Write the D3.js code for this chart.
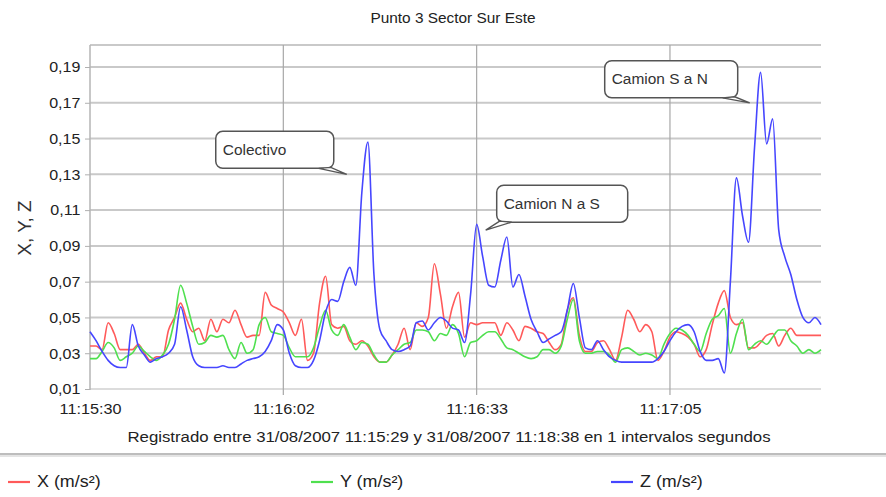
<!DOCTYPE html>
<html><head><meta charset="utf-8">
<script src="https://cdn.jsdelivr.net/npm/d3@7"></script>
<style>
body{margin:0;background:#fff;}
svg{display:block;font-family:"Liberation Sans",Arial,sans-serif;}
</style>
</head><body>
<svg id="c" width="886" height="497"></svg>
<script>
// ---- data ----
const titleText = "Punto 3 Sector Sur Este";
const xAxisTitle = "Registrado entre 31/08/2007 11:15:29 y 31/08/2007 11:18:38 en 1 intervalos segundos";
const yAxisTitle = "X, Y, Z";
const seriesNames = ["X (m/s²)", "Y (m/s²)", "Z (m/s²)"];
const xTickIndex = [0, 32, 64, 96];
const xTickLabels = ["11:15:30", "11:16:02", "11:16:33", "11:17:05"];
const yTicks = [0.01, 0.03, 0.05, 0.07, 0.09, 0.11, 0.13, 0.15, 0.17, 0.19];

const xValues = [
0.034,0.034,0.032,0.047,0.041,0.032,0.032,0.032,0.035,0.030,
0.026,0.028,0.028,0.043,0.050,0.058,0.049,0.042,0.044,0.037,
0.049,0.042,0.049,0.047,0.054,0.046,0.039,0.040,0.040,0.064,
0.057,0.055,0.053,0.047,0.040,0.049,0.026,0.030,0.058,0.073,
0.046,0.044,0.045,0.037,0.035,0.037,0.034,0.028,0.025,0.025,
0.029,0.035,0.044,0.032,0.047,0.045,0.050,0.080,0.063,0.044,
0.056,0.064,0.039,0.047,0.046,0.047,0.047,0.047,0.040,0.047,
0.043,0.037,0.045,0.044,0.042,0.041,0.036,0.032,0.035,0.054,
0.061,0.040,0.031,0.031,0.036,0.037,0.032,0.026,0.039,0.054,
0.049,0.042,0.046,0.042,0.026,0.031,0.039,0.042,0.041,0.039,
0.035,0.028,0.032,0.046,0.058,0.065,0.050,0.046,0.047,0.033,
0.033,0.036,0.040,0.041,0.034,0.040,0.044,0.040,0.040,0.040,
0.040,0.040];

const yValues = [
0.027,0.027,0.031,0.036,0.033,0.026,0.028,0.030,0.034,0.031,
0.028,0.026,0.029,0.035,0.049,0.068,0.058,0.045,0.035,0.036,
0.040,0.039,0.040,0.032,0.027,0.036,0.030,0.032,0.046,0.050,
0.042,0.041,0.040,0.033,0.028,0.028,0.028,0.033,0.045,0.054,
0.043,0.040,0.046,0.039,0.032,0.036,0.035,0.029,0.025,0.025,
0.029,0.032,0.035,0.036,0.043,0.043,0.042,0.037,0.041,0.040,
0.046,0.041,0.028,0.036,0.037,0.040,0.042,0.042,0.038,0.033,
0.032,0.030,0.028,0.027,0.028,0.032,0.032,0.030,0.034,0.049,
0.060,0.037,0.030,0.030,0.031,0.031,0.029,0.025,0.032,0.033,
0.031,0.029,0.030,0.029,0.027,0.035,0.041,0.044,0.043,0.040,
0.035,0.031,0.041,0.049,0.051,0.055,0.030,0.041,0.049,0.032,
0.035,0.037,0.035,0.039,0.043,0.043,0.037,0.034,0.030,0.032,
0.030,0.032];

const zValues = [
0.042,0.037,0.031,0.026,0.023,0.022,0.022,0.046,0.034,0.029,
0.025,0.027,0.028,0.030,0.035,0.056,0.043,0.028,0.023,0.022,
0.022,0.022,0.023,0.022,0.022,0.024,0.026,0.027,0.028,0.031,
0.037,0.046,0.043,0.030,0.023,0.022,0.022,0.026,0.037,0.053,
0.060,0.059,0.070,0.078,0.068,0.120,0.148,0.074,0.043,0.037,
0.032,0.031,0.032,0.034,0.047,0.048,0.043,0.047,0.050,0.048,
0.044,0.043,0.036,0.063,0.102,0.084,0.068,0.067,0.082,0.095,
0.067,0.074,0.062,0.049,0.042,0.036,0.038,0.040,0.042,0.054,
0.069,0.050,0.033,0.032,0.037,0.032,0.028,0.026,0.025,0.025,
0.025,0.025,0.025,0.025,0.027,0.031,0.037,0.042,0.045,0.046,
0.042,0.031,0.026,0.026,0.027,0.019,0.070,0.128,0.107,0.092,
0.145,0.187,0.147,0.161,0.099,0.084,0.074,0.060,0.050,0.047,
0.050,0.046];

// annotations: label, anchor index, anchor value (tip of pointer)
const annotLabels = ["Colectivo", "Camion N a S", "Camion S a N"];
const annotIndex = [42.5, 65.5, 109.2];
const annotValue = [0.130, 0.0988, 0.170];

// ---- drawing ----
const svg = d3.select("#c");
const colors = ["#ff5a5a", "#4fe04f", "#4646ff"];
const x = d3.scaleLinear().domain([0, 121]).range([90, 821]);
const y = d3.scaleLinear().domain([0.01, 0.2023]).range([389, 45]);
const locale = d3.formatLocale({decimal: ",", thousands: ".", grouping: [3], currency: ["", "€"]});
const fmt = locale.format(".2f");
const FONT = "'Liberation Sans',Arial,sans-serif";

// text placed with a slight horizontal stretch (reference glyphs are wide)
function stretchedText(px, py, sx, size, anchor, str, fill) {
  return svg.append("text")
    .attr("transform", `translate(${px},${py}) scale(${sx},1)`)
    .attr("text-anchor", anchor).attr("font-size", size)
    .attr("fill", fill || "#222").text(str);
}

// title
stretchedText(453, 23, 1.1, 14, "middle", titleText);

// horizontal gridlines
svg.append("g").selectAll("line").data(yTicks).join("line")
  .attr("x1", x(0)).attr("x2", x(121))
  .attr("y1", d => y(d)).attr("y2", d => y(d))
  .attr("stroke", d => d === 0.01 ? "#dcdcdc" : "#c9c9c9").attr("stroke-width", 2);
// top border
svg.append("line").attr("x1", x(0)).attr("x2", x(121)).attr("y1", 45).attr("y2", 45)
  .attr("stroke", "#c9c9c9").attr("stroke-width", 2);

// vertical gridlines
svg.append("g").selectAll("line").data(xTickIndex.slice(1)).join("line")
  .attr("x1", d => x(d)).attr("x2", d => x(d)).attr("y1", 45).attr("y2", 395)
  .attr("stroke", "#a8a8a8").attr("stroke-width", 1.2);
// left axis line
svg.append("line").attr("x1", x(0)).attr("x2", x(0)).attr("y1", 45).attr("y2", 390)
  .attr("stroke", "#b4b4b4").attr("stroke-width", 1.5);

// y axis
const yAxis = svg.append("g").attr("transform", `translate(${x(0)},0)`)
  .call(d3.axisLeft(y).tickValues(yTicks).tickSize(5).tickPadding(4).tickFormat(fmt));
yAxis.select(".domain").remove();
yAxis.selectAll(".tick line").attr("stroke", "#b0b0b0");
yAxis.selectAll(".tick text").attr("font-size", 15).attr("fill", "#222")
  .attr("font-family", FONT).attr("transform", "scale(1.07,1)");

// x axis
const xAxis = svg.append("g").attr("transform", `translate(0,389)`)
  .call(d3.axisBottom(x).tickValues(xTickIndex).tickSize(0).tickPadding(14)
    .tickFormat((d, i) => xTickLabels[i]));
xAxis.select(".domain").remove();
xAxis.selectAll(".tick text").attr("font-size", 15).attr("fill", "#222")
  .attr("font-family", FONT).attr("transform", "scale(1.08,1)");

// axis titles
stretchedText(449, 442, 1.12, 15, "middle", xAxisTitle);
svg.append("text").attr("transform", "translate(31,228) rotate(-90)").attr("text-anchor", "middle")
  .attr("font-size", 19).attr("fill", "#333").text(yAxisTitle);

// lines
const seriesList = [xValues, yValues, zValues];
const line = d3.line().x((d, i) => x(i)).y(d => y(d)).curve(d3.curveMonotoneX);
svg.append("g").selectAll("path").data(seriesList).join("path")
  .attr("d", d => line(d)).attr("fill", "none")
  .attr("stroke", (d, i) => colors[i]).attr("stroke-width", 1.6)
  .attr("stroke-linejoin", "round");

// annotations
const boxW = [118, 131, 133];
const boxH = 37;
annotLabels.forEach((lab, i) => {
  const tx = x(annotIndex[i]), ty = y(annotValue[i]);
  let left, top, tri;
  if (i === 1) {
    left = tx + 11; top = ty - 8 - boxH;
    const b = top + boxH;
    tri = [[left + 3, b - 1], [tx, ty], [left + 15, b]];
  } else {
    const right = tx - (i === 0 ? 13 : 12);
    left = right - boxW[i]; top = ty - (i === 0 ? 6 : 5) - boxH;
    const b = top + boxH;
    tri = [[right - 15, b], [tx, ty], [right - 3, b - 1]];
  }
  const g = svg.append("g");
  g.append("rect").attr("x", left).attr("y", top).attr("width", boxW[i]).attr("height", boxH)
    .attr("rx", 7).attr("fill", "#fff").attr("stroke", "#555").attr("stroke-width", 1.5);
  g.append("path").attr("d", "M" + tri.map(p => p.join(",")).join("L") + "Z")
    .attr("fill", "#fff").attr("stroke", "#555").attr("stroke-width", 1.3);
  g.append("text").attr("transform", `translate(${left + 7},${top + boxH / 2 + 5}) scale(1.03,1)`)
    .attr("font-size", 15).attr("fill", "#333").text(lab);
});

// legend separator
svg.append("rect").attr("x", 0).attr("y", 453).attr("width", 886).attr("height", 2).attr("fill", "#bdbdbd");
svg.append("rect").attr("x", 0).attr("y", 455).attr("width", 886).attr("height", 2).attr("fill", "#e4e4e4");

// legend
const legendX = [8, 311, 611];
const lg = svg.append("g").selectAll("g").data(seriesNames).join("g")
  .attr("transform", (d, i) => `translate(${legendX[i]},482)`);
lg.append("line").attr("x1", 0).attr("x2", 22).attr("y1", 0).attr("y2", 0)
  .attr("stroke", (d, i) => colors[i]).attr("stroke-width", 2.2);
lg.append("text").attr("transform", "translate(29,5) scale(1.12,1)")
  .attr("font-size", 16).attr("fill", "#222").text(d => d);
</script>
</body></html>
